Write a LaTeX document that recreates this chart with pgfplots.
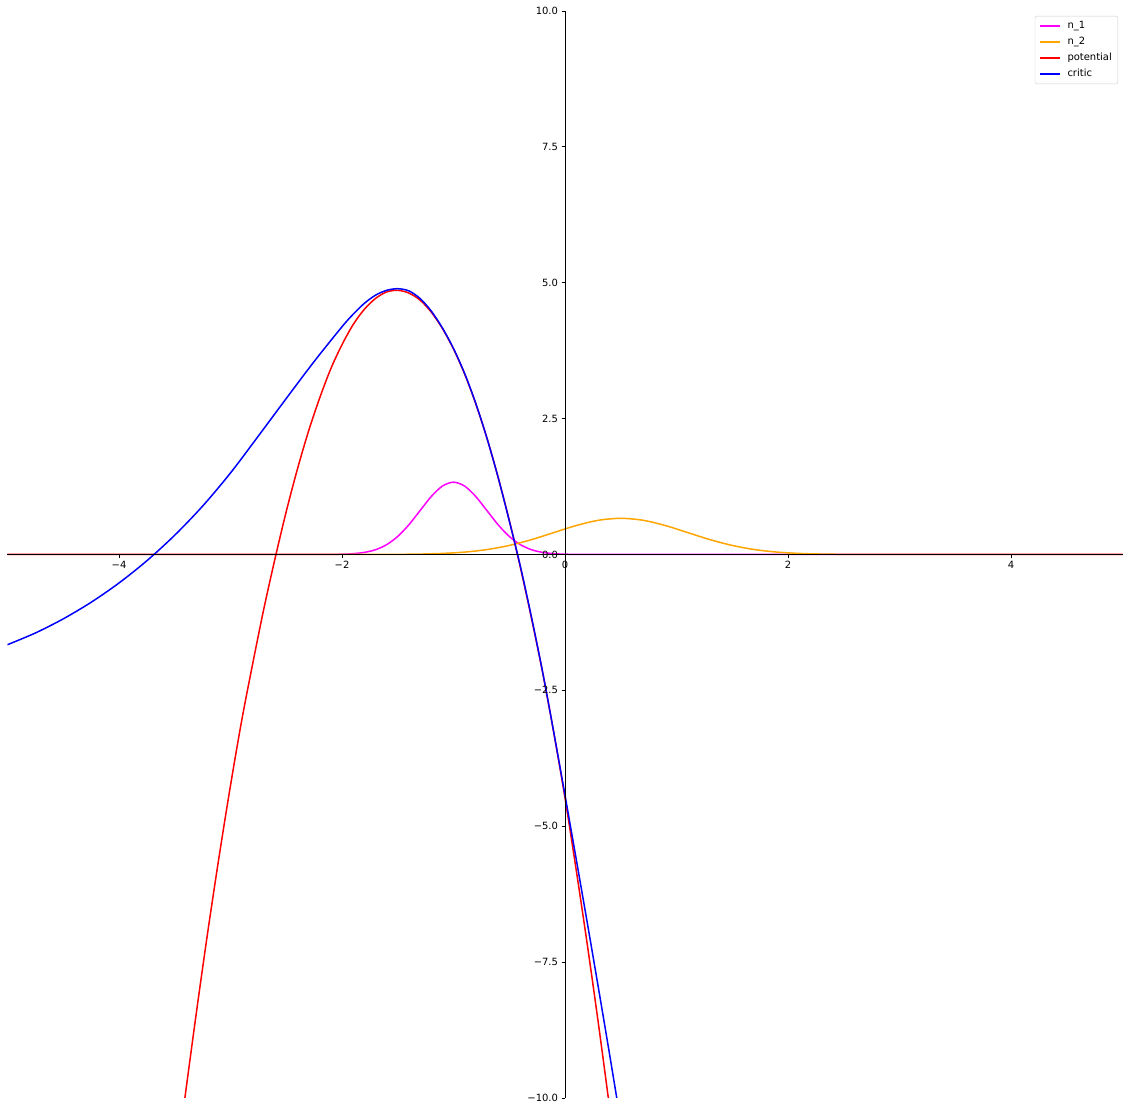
\documentclass[border=0pt]{standalone}
\usepackage{fontspec}
\setmainfont{DejaVu Sans}
\usepackage{pgfplots}
\pgfplotsset{compat=1.18}
\usetikzlibrary{calc}

\definecolor{mplmagenta}{RGB}{255,0,255}
\definecolor{mplorange}{RGB}{255,165,0}
\definecolor{mplred}{RGB}{255,0,0}
\definecolor{mplblue}{RGB}{0,0,255}

\begin{document}
\fontsize{10}{12}\selectfont
\begin{tikzpicture}
\begin{axis}[
  scale only axis,
  width=1115bp, height=1087bp,
  xmin=-5, xmax=5, ymin=-10, ymax=10,
  axis lines=middle,
  axis on top,
  axis line style={-, line width=0.8bp, black},
  tick align=outside,
  major tick length=3.5bp,
  tick style={black, line width=0.8bp},
  xtick={-4,-2,0,2,4},
  xticklabels={−4,−2,0,2,4},
  ytick={-10,-7.5,-5,-2.5,0,2.5,5,7.5,10},
  yticklabels={−10.0,−7.5,−5.0,−2.5,0.0,2.5,5.0,7.5,10.0},
  hide obscured x ticks=false,
  hide obscured y ticks=false,
  every tick label/.append style={font=\fontsize{10}{12}\selectfont},
  legend style={at={(1,1)}, anchor=north east, xshift=-4.5bp, yshift=-5bp,
    draw=black!20, rounded corners=2bp, fill=white,
    font=\fontsize{10}{12}\selectfont, row sep=3bp,
    inner xsep=4bp, inner ysep=3.5bp},
  legend cell align=left,
  legend image code/.code={\draw (0bp,0bp) -- (20bp,0bp);},
  every axis plot/.append style={line width=1.5bp},
]
\coordinate (sw) at (rel axis cs:0,0);
\coordinate (ne) at (rel axis cs:1,1);

% n_1
\addplot[mplmagenta, smooth] coordinates {
  (-5,0) (-2.4,0) (-2.2,0.0004) (-2.0,0.005) (-1.9,0.0148) (-1.8,0.038) (-1.7,0.087)
  (-1.6,0.180) (-1.5,0.332) (-1.4,0.547) (-1.3,0.807) (-1.2,1.065)
  (-1.1,1.258) (-1.0,1.330) (-0.9,1.258) (-0.8,1.065) (-0.7,0.807)
  (-0.6,0.547) (-0.5,0.332) (-0.4,0.180) (-0.3,0.087) (-0.2,0.038)
  (-0.1,0.0148) (0.0,0.005) (0.2,0.0004) (0.4,0) (5,0)};
\addlegendentry{\hspace{5bp}n\_1}

% n_2
\addplot[mplorange, smooth] coordinates {
  (-5,0) (-2.2,0) (-1.8,0.0004) (-1.5,0.0026) (-1.3,0.0074) (-1.1,0.019)
  (-0.9,0.0437) (-0.7,0.090) (-0.5,0.166) (-0.3,0.273) (-0.1,0.403)
  (0.1,0.532) (0.3,0.629) (0.5,0.665) (0.7,0.629) (0.9,0.532)
  (1.1,0.403) (1.3,0.273) (1.5,0.166) (1.7,0.090) (1.9,0.0437)
  (2.1,0.019) (2.3,0.0074) (2.5,0.0026) (2.8,0.0004) (3.2,0) (5,0)};
\addlegendentry{\hspace{5bp}n\_2}

% potential
\addplot[mplred, smooth] coordinates {
  (-3.45,-10.66) (-3.4,-9.86) (-3.3,-8.34) (-3.2,-6.89) (-3.1,-5.53)
  (-3.0,-4.25) (-2.9,-3.06) (-2.8,-2.00) (-2.7,-0.99) (-2.6,-0.07)
  (-2.5,0.79) (-2.4,1.57) (-2.3,2.27) (-2.2,2.88) (-2.1,3.42)
  (-2.0,3.86) (-1.9,4.23) (-1.8,4.51) (-1.7,4.71) (-1.6,4.83)
  (-1.5,4.86) (-1.4,4.81) (-1.3,4.68) (-1.2,4.46) (-1.1,4.16)
  (-1.0,3.78) (-0.9,3.32) (-0.8,2.77) (-0.7,2.14) (-0.6,1.42)
  (-0.5,0.63) (-0.4,-0.24) (-0.3,-1.18) (-0.2,-2.18) (-0.1,-3.29)
  (0.0,-4.48) (0.1,-5.80) (0.2,-7.18) (0.3,-8.64) (0.4,-10.18) (0.45,-10.98)};
\addlegendentry{\hspace{5bp}potential}

% critic
\addplot[mplblue, smooth] coordinates {
  (-5.0,-1.66) (-4.75,-1.445) (-4.5,-1.185) (-4.25,-0.88) (-4.0,-0.525)
  (-3.75,-0.115) (-3.5,0.355) (-3.25,0.89) (-3.0,1.50) (-2.75,2.18)
  (-2.5,2.87) (-2.25,3.55) (-2.0,4.19) (-1.9,4.42) (-1.8,4.62)
  (-1.7,4.77) (-1.6,4.86) (-1.5,4.89) (-1.4,4.85) (-1.3,4.71)
  (-1.2,4.48) (-1.1,4.17) (-1.0,3.79) (-0.9,3.33) (-0.8,2.78)
  (-0.7,2.14) (-0.6,1.42) (-0.5,0.62) (-0.4,-0.22) (-0.3,-1.16)
  (-0.2,-2.17) (-0.1,-3.28) (0.0,-4.43) (0.1,-5.60) (0.2,-6.78)
  (0.3,-7.98) (0.4,-9.20) (0.5,-10.45)};
\addlegendentry{\hspace{5bp}critic}
\end{axis}
\pgfresetboundingbox
\path[use as bounding box] ($(sw)+(-7.5bp,-13bp)$) rectangle ($(ne)+(7.5bp,11bp)$);
\end{tikzpicture}
\end{document}
